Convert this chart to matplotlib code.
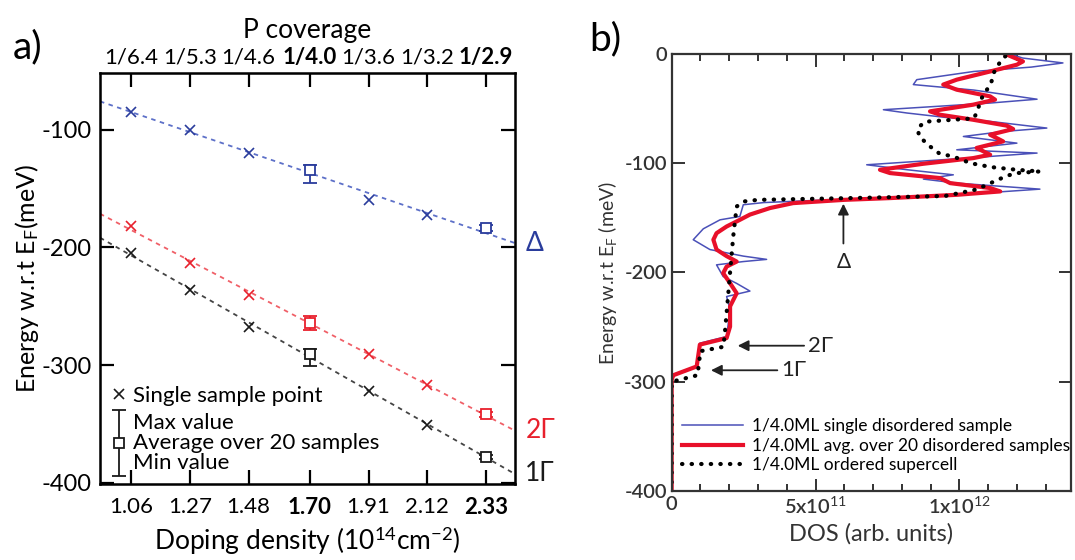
import numpy as np
import matplotlib
matplotlib.use('Agg')
import matplotlib.pyplot as plt
from matplotlib.ticker import MultipleLocator
from matplotlib.legend_handler import HandlerErrorbar
from matplotlib.container import ErrorbarContainer

plt.rcParams['font.family'] = ['Lato', 'DejaVu Sans']
plt.rcParams['mathtext.fontset'] = 'custom'
plt.rcParams['mathtext.rm'] = 'Lato'
plt.rcParams['mathtext.it'] = 'Lato:italic'
plt.rcParams['axes.unicode_minus'] = False

# -------------------------
#     Panel a) data
# -------------------------
density = np.array([1.06, 1.27, 1.48, 1.70, 1.91, 2.12, 2.33])
density_labels = ['1.06', '1.27', '1.48', '1.70', '1.91', '2.12', '2.33']
coverage_labels = ['1/6.4', '1/5.3', '1/4.6', '1/4.0', '1/3.6', '1/3.2', '1/2.9']
bold_idx = [3, 6]
is_avg = np.array([False, False, False, True, False, False, True])

e_delta = np.array([-84.8, -100.0, -119.9, -134.5, -159.8, -172.4, -183.6])
e_2gamma = np.array([-181.6, -213.6, -240.2, -264.1, -290.7, -316.8, -341.6])
e_1gamma = np.array([-204.6, -236.4, -267.2, -290.7, -321.6, -350.5, -378.0])

# max / min over the 20 samples (only for the averaged points)
max_delta = np.array([-129.7, -181.0])
min_delta = np.array([-144.9, -186.0])
max_2gamma = np.array([-258.5, -339.5])
min_2gamma = np.array([-270.3, -343.8])
max_1gamma = np.array([-286.0, -376.0])
min_1gamma = np.array([-300.8, -380.0])

# -------------------------
#     Panel b) data (DOS in 1e11 units)
# -------------------------
e_single = [0, -3.7, -8.2, -12, -16, -23.5, -28, -29.7, -33, -37.4, -41.4, -44.9, -51, -54,
            -58, -61.7, -67.8, -71, -75.5, -81.6, -87.7, -90.7, -95.3, -101.4, -106, -110.6,
            -114.5, -118.2, -123.7, -128.9, -132, -134, -136, -138, -148.7, -151.8, -160, -170,
            -179, -185, -188, -190, -193, -203.7, -210, -217, -222, -234, -258.6, -264.7, -286,
            -294, -400]
dos_single = [11.76, 12.2, 13.6, 12.5, 10.5, 8.52, 8.4, 9.1, 10.5, 11.65, 12.7, 11.07, 7.36, 8.17,
              9.5, 11.07, 13.04, 11.5, 10.14, 12.0, 9.91, 12.7, 10.26, 6.78, 8.2, 9.79,
              8.75, 9.91, 12.8, 9.91, 7.5, 5.0, 3.2, 2.49, 2.37, 1.68, 1.1, 0.75,
              1.33, 2.49, 3.3, 2.49, 1.56, 1.79, 2.26, 2.72, 1.91, 2.03, 1.91, 0.98, 0.87,
              0, 0]

e_avg = [0, -6.8, -9.8, -16, -23.5, -28, -32.7, -38.8, -41.8, -46.4, -52.5, -55.6, -60.2, -65.6,
         -68.7, -73.9, -80, -86, -92.2, -95.3, -100.5, -106, -109, -113.6, -118.2, -122.7, -125.8,
         -128.9, -131.9, -133.5, -136.5, -141, -147, -151.8, -157.9, -164, -170, -179, -185, -190,
         -194.6, -200.6, -209.8, -219, -231, -249.5, -260, -266, -286, -294, -298, -400]
dos_avg = [11.6, 12.21, 12.0, 11.07, 9.91, 9.44, 9.91, 11.07, 11.24, 10.48, 8.98, 9.33, 10.48, 11.65,
           11.87, 11.07, 11.52, 10.6, 11.07, 10.48, 8.74, 7.24, 7.59, 9.33, 9.68, 11.07, 11.42,
           9.91, 7.59, 6.0, 4.22, 3.42, 2.72, 2.37, 1.91, 1.56, 1.45, 1.56, 1.91, 2.26,
           1.91, 1.79, 2.03, 2.26, 2.03, 2.03, 1.91, 0.98, 0.87, 0.06, 0, 0]

e_ordered = [-2, -8, -17, -27, -39, -46, -54, -59, -60, -62, -68, -75, -83, -91, -94, -100, -103.5,
             -106, -107.5, -109, -111.5, -118, -124, -130, -132, -133.5, -135, -139.6, -167, -200,
             -219, -255, -268, -272, -294, -300, -400]
dos_ordered = [11.6, 11.4, 11.2, 11.1, 10.8, 10.7, 10.6, 10.5, 9.9, 8.8, 8.55, 8.6, 8.9, 9.3, 9.8,
               10.4, 11.1, 12.0, 12.8, 12.0, 11.65, 11.1, 10.6, 9.5, 6.0, 3.0, 2.5, 2.26, 2.14, 2.03,
               1.97, 1.85, 1.8, 1.0, 0.9, 0, 0]

blue, red, black = '#2a3c9c', '#e8202c', '#1a1a1a'
blue_l, red_l, black_l = '#5d70c8', '#f06068', '#444444'

fig = plt.figure(figsize=(10.75, 5.6), dpi=100)

# -------------------------
#          Panel a
# -------------------------
ax1 = fig.add_axes([0.093, 0.1357, 0.386, 0.7334])
xlim = (0.948, 2.434)
xfit = np.array(xlim)

series = [
    (e_delta, max_delta, min_delta, blue, blue_l, '\u0394'),
    (e_2gamma, max_2gamma, min_2gamma, red, red_l, '2\u0393'),
    (e_1gamma, max_1gamma, min_1gamma, black, black_l, '1\u0393'),
]
handles = None
for e, emax, emin, col, col_l, lab in series:
    k, b = np.polyfit(density, e, 1)
    ax1.plot(xfit, k * xfit + b, ls=(0, (2.5, 2.5)), color=col_l, lw=1.3, zorder=1)
    hx, = ax1.plot(density[~is_avg], e[~is_avg], 'x', color=col, ms=7, mew=1.2)
    ea = e[is_avg]
    eb = ax1.errorbar(density[is_avg], ea, yerr=[ea - emin, emax - ea], fmt='s', mfc='white',
                      mec=col, ecolor=col, ms=6.5, mew=1.3, elinewidth=1.3, capsize=5, capthick=1.3)
    ax1.text(1.025, k * xlim[1] + b, lab, transform=ax1.get_yaxis_transform(), color=col,
             fontsize=19, va='center', ha='left', clip_on=False)
    handles = (hx, eb)

ax1.set_xlim(*xlim)
ax1.set_ylim(-401, -52)
ax1.set_xticks(density)
ax1.set_xticklabels(density_labels)
ax1.set_yticks([-100, -200, -300, -400])
ax1.tick_params(direction='in', top=False, right=True, length=10, width=1.6, labelsize=16, pad=9)
ax1.tick_params(axis='y', labelsize=17, pad=6)
for i in bold_idx:
    ax1.get_xticklabels()[i].set_fontweight('bold')
for s in ax1.spines.values():
    s.set_linewidth(1.8)
ax1.set_xlabel('Doping density (10$^{14}$cm$^{-2}$)', fontsize=19, labelpad=5)
ax1.set_ylabel('Energy w.r.t E$_\\mathrm{F}$(meV)', fontsize=18, labelpad=0)

ax1t = ax1.twiny()
ax1t.set_xlim(*xlim)
ax1t.set_xticks(density)
ax1t.set_xticklabels(coverage_labels)
ax1t.tick_params(direction='in', length=10, width=1.6, labelsize=16, pad=4)
for i in bold_idx:
    ax1t.get_xticklabels()[i].set_fontweight('bold')
ax1t.set_xlabel('P coverage', fontsize=19, labelpad=6)

leg = ax1.legend(handles, ['Single sample point', 'Max value\nAverage over 20 samples\nMin value'],
                 loc='lower left', frameon=False, fontsize=16, handlelength=0.7, handletextpad=0.3,
                 labelspacing=0.3, borderaxespad=0.4, borderpad=0.1,
                 handler_map={ErrorbarContainer: HandlerErrorbar(yerr_size=1.5)})
for t in leg.get_texts():
    t.set_linespacing(1.0)

# -------------------------
#          Panel b
# -------------------------
ax2 = fig.add_axes([0.6248, 0.1232, 0.3712, 0.7804])
ax2.plot(np.array(dos_single) * 1e11, e_single, color='#4a50b8', lw=1.1,
         label='1/4.0ML single disordered sample')
ax2.plot(np.array(dos_avg) * 1e11, e_avg, color='#e8102a', lw=3,
         label='1/4.0ML avg. over 20 disordered samples')
ax2.plot(np.array(dos_ordered) * 1e11, e_ordered, color='black', lw=3, ls=(0, (0.1, 2.2)),
         dash_capstyle='round', label='1/4.0ML ordered supercell')

ax2.annotate('', xy=(5.97e11, -134.5), xytext=(5.97e11, -176),
             arrowprops=dict(arrowstyle='-|>', color='#222222', lw=1.3, mutation_scale=16))
ax2.text(5.97e11, -190, '\u0394', ha='center', va='center', fontsize=15, color='#222222')
ax2.annotate('', xy=(2.2e11, -267), xytext=(4.7e11, -267),
             arrowprops=dict(arrowstyle='-|>', color='#222222', lw=1.3, mutation_scale=16))
ax2.text(4.75e11, -267, '2\u0393', ha='left', va='center', fontsize=16, color='#222222')
ax2.annotate('', xy=(1.27e11, -289.5), xytext=(3.77e11, -289.5),
             arrowprops=dict(arrowstyle='-|>', color='#222222', lw=1.3, mutation_scale=16))
ax2.text(3.82e11, -289.5, '1\u0393', ha='left', va='center', fontsize=16, color='#222222')

ax2.set_xlim(0, 1.387e12)
ax2.set_ylim(-400, 0)
ax2.set_xticks([0, 5e11, 1e12])
ax2.set_xticklabels(['0', '5x10$^{11}$', '1x10$^{12}$'])
ax2.xaxis.set_minor_locator(MultipleLocator(1e11))
ax2.set_yticks([0, -100, -200, -300, -400])
ax2.tick_params(which='both', direction='in', top=True, right=True, labelsize=14.5, width=1.4,
                colors='#333333', labelcolor='#333333')
ax2.tick_params(which='major', length=9)
ax2.tick_params(which='minor', length=5)
for lbl in ax2.get_xticklabels() + ax2.get_yticklabels():
    lbl.set_fontweight('semibold')
for s in ax2.spines.values():
    s.set_linewidth(1.6)
    s.set_color('#333333')
ax2.set_xlabel('DOS (arb. units)', fontsize=17, color='#333333', labelpad=4)
ax2.set_ylabel('Energy w.r.t E$_\\mathrm{F}$ (meV)', fontsize=14, color='#333333', labelpad=4)
ax2.legend(loc='upper left', bbox_to_anchor=(0.0, 0.19), frameon=False, fontsize=12.5,
           handlelength=3.5, handletextpad=0.5, labelspacing=0.2, borderaxespad=0.2)

fig.text(0.012, 0.915, 'a)', fontsize=28, ha='left', va='center')
fig.text(0.548, 0.93, 'b)', fontsize=28, ha='left', va='center')

fig.savefig('out.png', dpi=100)
